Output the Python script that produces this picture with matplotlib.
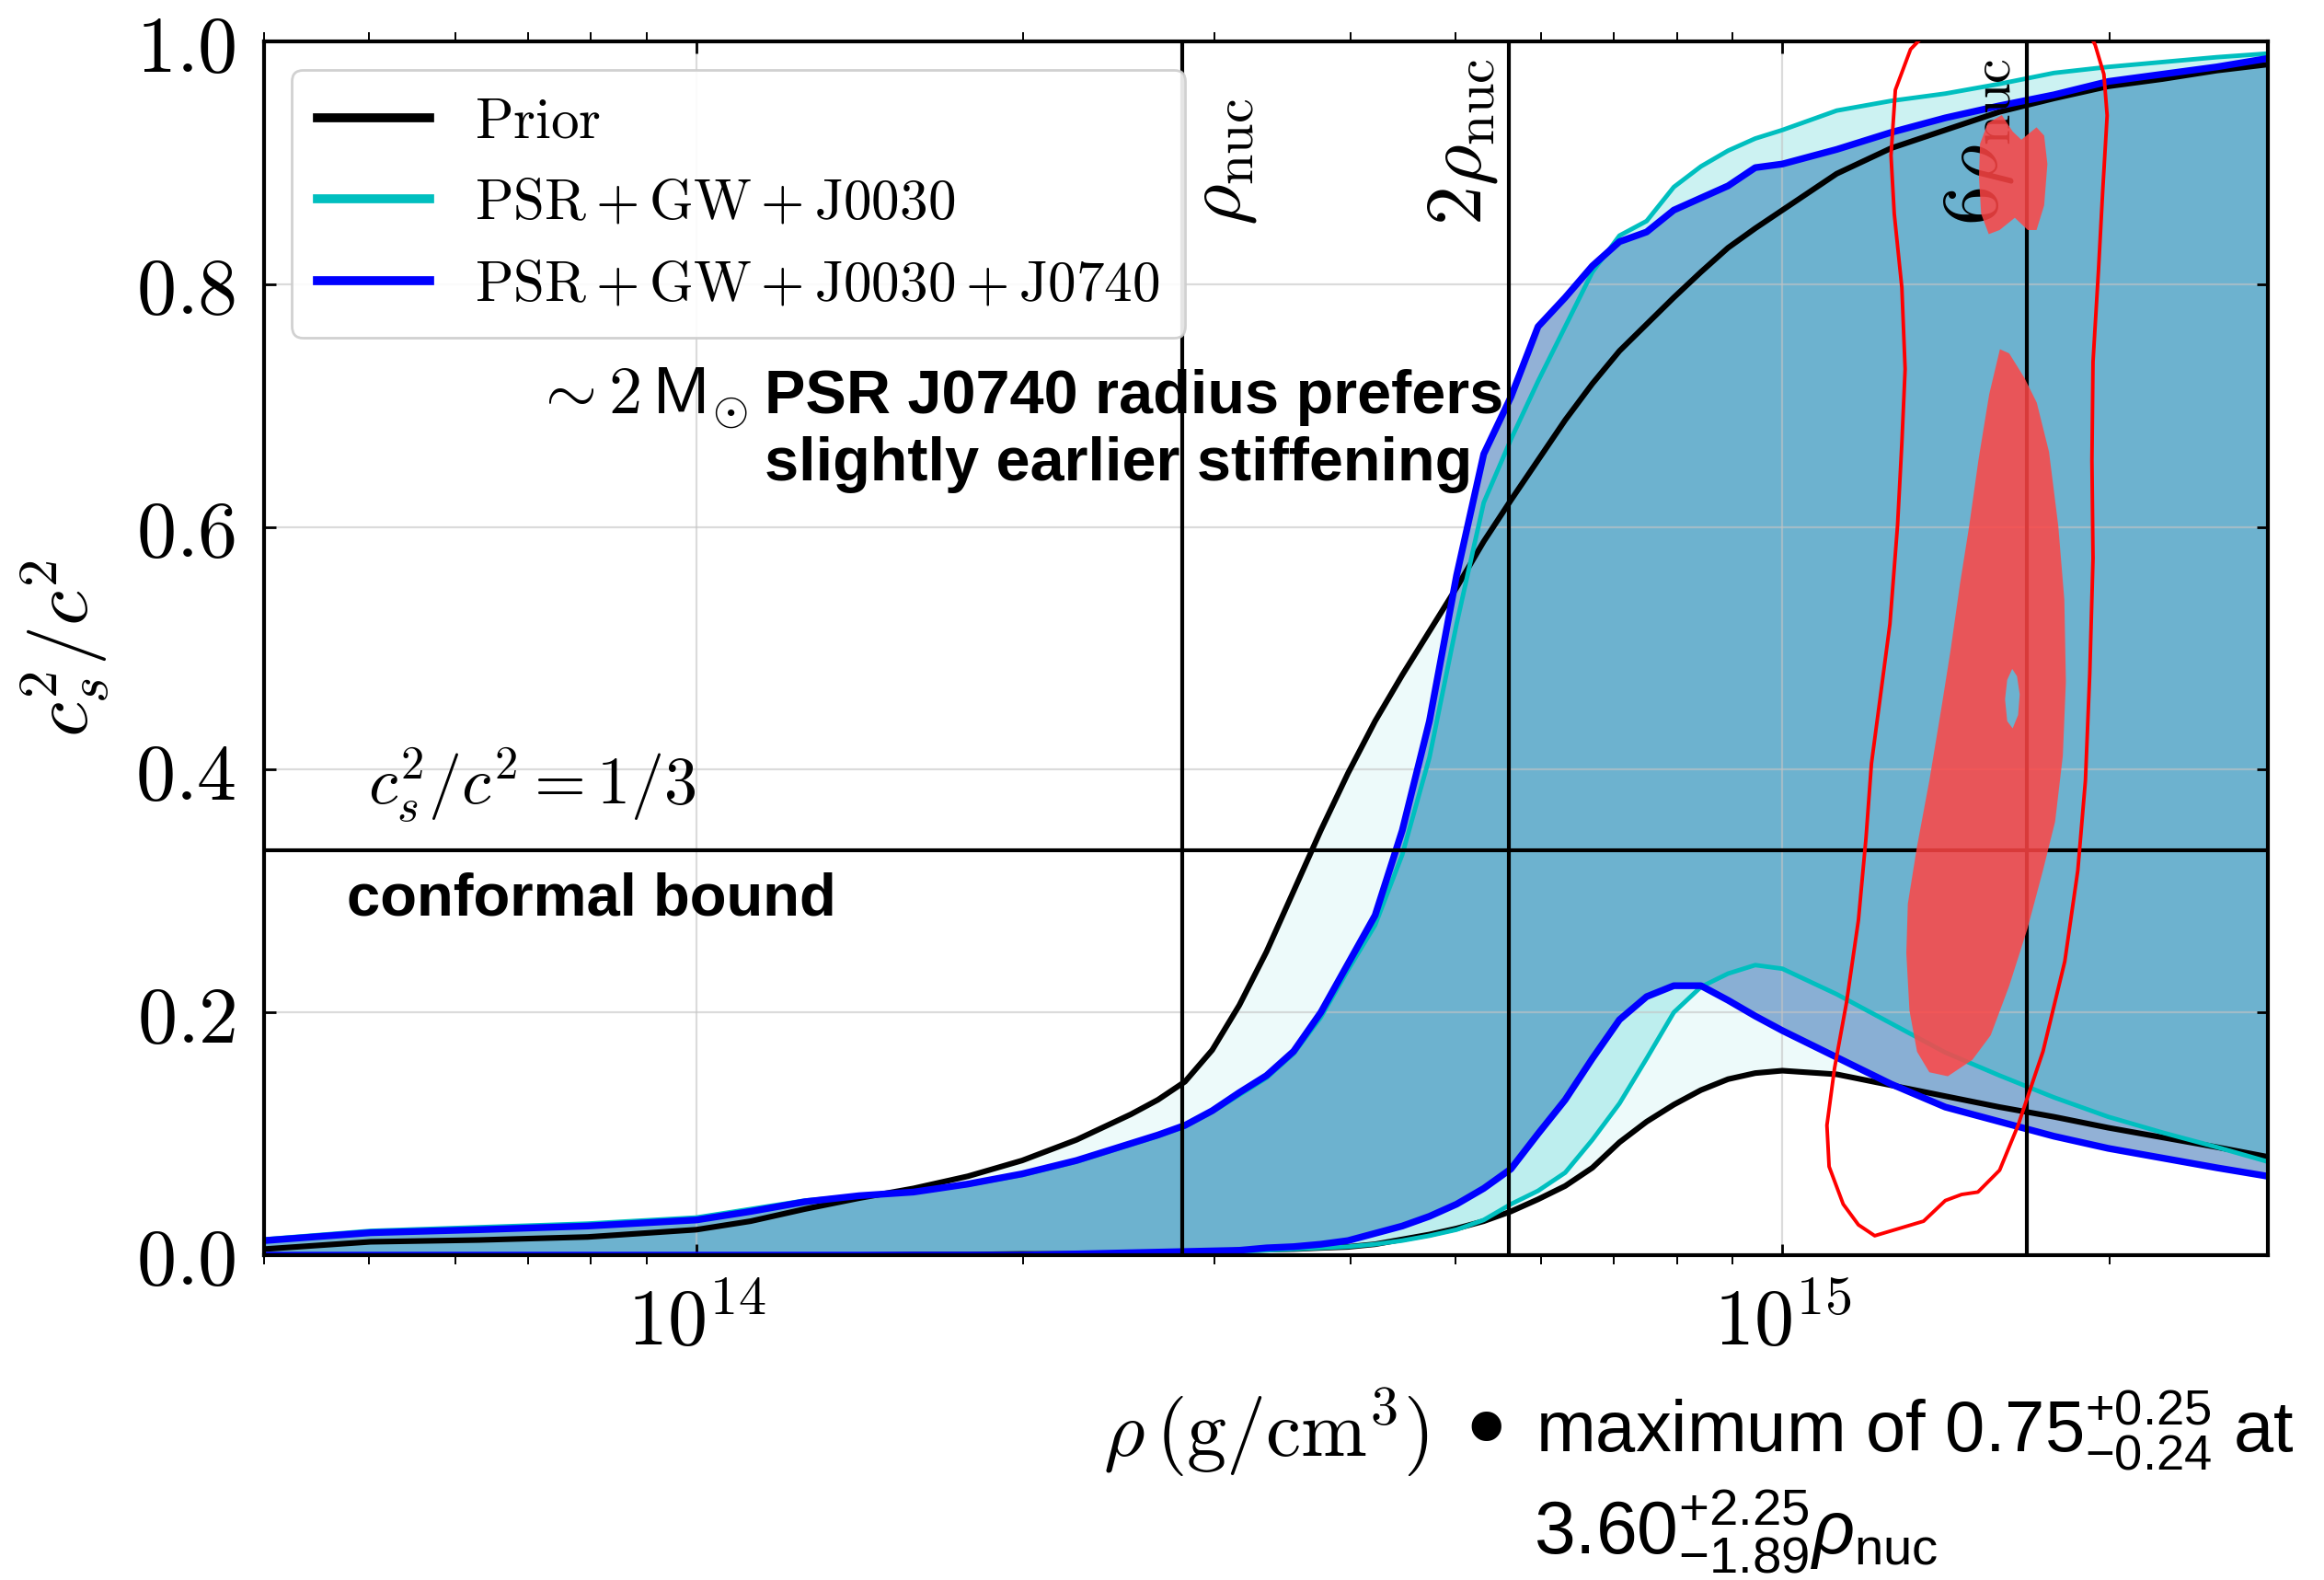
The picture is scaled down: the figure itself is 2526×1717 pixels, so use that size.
import numpy as np
import matplotlib
matplotlib.use('Agg')
import matplotlib.pyplot as plt
from matplotlib.path import Path
from matplotlib.patches import PathPatch
from matplotlib.ticker import NullFormatter

plt.rcParams['mathtext.fontset'] = 'cm'
plt.rcParams['mathtext.rm'] = 'Liberation Sans'
plt.rcParams['mathtext.it'] = 'Liberation Sans:italic'
plt.rcParams['mathtext.bf'] = 'Liberation Sans:bold'
plt.rcParams['mathtext.sf'] = 'Liberation Sans'

# ---------------- data ----------------
log_rho = [13.602, 13.7, 13.8, 13.9, 14.0, 14.05, 14.1, 14.15, 14.2, 14.25, 14.3, 14.35,
           14.4, 14.425, 14.45, 14.475, 14.5, 14.525, 14.55, 14.575, 14.6, 14.625, 14.65, 14.675,
           14.7, 14.725, 14.75, 14.775, 14.8, 14.825, 14.85, 14.875, 14.9, 14.925, 14.95, 14.975,
           15.0, 15.05, 15.1, 15.15, 15.2, 15.25, 15.3, 15.35, 15.4, 15.447]

prior_hi = [0.005, 0.011, 0.0125, 0.015, 0.021, 0.028, 0.038, 0.047, 0.055, 0.065, 0.078, 0.095,
            0.116, 0.128, 0.143, 0.169, 0.206, 0.25, 0.30, 0.35, 0.397, 0.44, 0.478, 0.514,
            0.550, 0.588, 0.622, 0.655, 0.688, 0.718, 0.745, 0.767, 0.789, 0.81, 0.83, 0.846,
            0.861, 0.891, 0.912, 0.927, 0.942, 0.953, 0.963, 0.969, 0.976, 0.981]
prior_lo = [0.0, 0.0, 0.0, 0.0, 0.0, 0.0, 0.0, 0.0, 0.0005, 0.0005, 0.001, 0.001,
            0.0015, 0.002, 0.0025, 0.003, 0.004, 0.0045, 0.005, 0.006, 0.0068, 0.009, 0.013, 0.017,
            0.022, 0.028, 0.036, 0.046, 0.057, 0.072, 0.093, 0.11, 0.124, 0.136, 0.145, 0.15,
            0.152, 0.149, 0.140, 0.131, 0.122, 0.114, 0.105, 0.097, 0.089, 0.081]

j0030_hi = [0.013, 0.020, 0.023, 0.026, 0.031, 0.038, 0.045, 0.049, 0.052, 0.058, 0.066, 0.077,
            0.091, 0.098, 0.106, 0.118, 0.132, 0.146, 0.166, 0.196, 0.235, 0.272, 0.33, 0.41,
            0.52, 0.62, 0.672, 0.72, 0.765, 0.81, 0.84, 0.852, 0.88, 0.897, 0.91, 0.92,
            0.927, 0.943, 0.951, 0.957, 0.965, 0.974, 0.979, 0.983, 0.987, 0.99]
j0030_lo = [0.0, 0.0, 0.0, 0.0, 0.0, 0.0, 0.0, 0.0, 0.0, 0.0, 0.0, 0.0,
            0.001, 0.0015, 0.002, 0.0025, 0.003, 0.004, 0.005, 0.006, 0.007, 0.009, 0.012, 0.016,
            0.021, 0.029, 0.042, 0.053, 0.068, 0.095, 0.125, 0.162, 0.2, 0.221, 0.232, 0.239,
            0.236, 0.215, 0.191, 0.167, 0.148, 0.13, 0.114, 0.101, 0.089, 0.077]

j0740_hi = [0.012, 0.0185, 0.021, 0.024, 0.029, 0.036, 0.044, 0.049, 0.052, 0.0586, 0.067, 0.078,
            0.092, 0.099, 0.107, 0.119, 0.134, 0.148, 0.168, 0.2, 0.24, 0.28, 0.35, 0.44,
            0.56, 0.66, 0.707, 0.765, 0.789, 0.815, 0.835, 0.843, 0.861, 0.871, 0.881, 0.896,
            0.899, 0.911, 0.925, 0.937, 0.947, 0.956, 0.967, 0.973, 0.979, 0.986]
j0740_lo = [0.0, 0.0, 0.0, 0.0, 0.0, 0.0, 0.0, 0.0, 0.0, 0.0, 0.0, 0.001,
            0.002, 0.0025, 0.003, 0.0035, 0.004, 0.006, 0.007, 0.009, 0.012, 0.018, 0.024, 0.032,
            0.042, 0.055, 0.071, 0.10, 0.128, 0.162, 0.194, 0.213, 0.222, 0.222, 0.21, 0.197,
            0.185, 0.163, 0.141, 0.122, 0.11, 0.098, 0.088, 0.08, 0.072, 0.065]

series_labels = [r'$\mathrm{Prior}$',
                 r'$\mathrm{PSR}+\mathrm{GW}+\mathrm{J0030}$',
                 r'$\mathrm{PSR}+\mathrm{GW}+\mathrm{J0030}+\mathrm{J0740}$']

rho_nuc = 2.8e14
nuc_multiples = [1, 2, 6]
nuc_labels = [r'$\rho_{\rm nuc}$', r'$2\rho_{\rm nuc}$', r'$6\rho_{\rm nuc}$']
conformal = 1.0 / 3.0

# red contour of (rho, c_s^2 max) posterior: outer outline
outline_lr = [15.2, 15.15, 15.125, 15.118, 15.104, 15.100, 15.103, 15.110, 15.113, 15.110,
              15.106, 15.099, 15.090, 15.082, 15.077, 15.070, 15.059, 15.048, 15.041, 15.043,
              15.056, 15.07, 15.085, 15.1, 15.115, 15.13, 15.15, 15.165, 15.18, 15.2,
              15.217, 15.240, 15.260, 15.272, 15.279, 15.283, 15.286, 15.285, 15.286, 15.291,
              15.295, 15.299, 15.296, 15.288, 15.275, 15.25, 15.2]
outline_c2 = [1.035, 1.02, 1.0, 0.9935, 0.96, 0.906, 0.858, 0.797, 0.730, 0.669,
              0.601, 0.520, 0.459, 0.405, 0.344, 0.276, 0.208, 0.154, 0.107, 0.073,
              0.042, 0.025, 0.016, 0.020, 0.024, 0.028, 0.045, 0.050, 0.052, 0.07,
              0.107, 0.168, 0.242, 0.317, 0.391, 0.479, 0.574, 0.655, 0.736, 0.811,
              0.878, 0.939, 0.973, 0.997, 1.02, 1.035, 1.035]

blob1_lr = [15.182, 15.189, 15.202, 15.212, 15.220, 15.234, 15.241, 15.244, 15.241, 15.234,
            15.226, 15.214, 15.200, 15.190, 15.183, 15.181]
blob1_c2 = [0.9157, 0.9326, 0.9393, 0.9258, 0.919, 0.9292, 0.9224, 0.899, 0.8649, 0.8446,
            0.8446, 0.8547, 0.8446, 0.8412, 0.858, 0.888]

blob2_lr = [15.2003, 15.2088, 15.2229, 15.2342, 15.2455, 15.254, 15.2596, 15.261, 15.2582, 15.2511,
            15.2398, 15.2257, 15.2088, 15.1918, 15.1749, 15.1523, 15.1353, 15.124, 15.117, 15.1141,
            15.1155, 15.124, 15.1353, 15.1466, 15.155, 15.1636, 15.172, 15.1805, 15.1904]
blob2_c2 = [0.7464, 0.743, 0.7227, 0.7024, 0.6618, 0.6009, 0.5399, 0.4723, 0.4114, 0.3572,
            0.3166, 0.2692, 0.2218, 0.1812, 0.1609, 0.1474, 0.1507, 0.1676, 0.2015, 0.2489,
            0.2895, 0.3369, 0.391, 0.4519, 0.4993, 0.5535, 0.6009, 0.655, 0.7092]

hole_lr = [15.2116, 15.216, 15.2185, 15.217, 15.212, 15.207, 15.205, 15.207]
hole_c2 = [0.483, 0.477, 0.462, 0.445, 0.434, 0.44, 0.458, 0.474]

xtick_exps = [14, 15]
ytick_vals = [0.0, 0.2, 0.4, 0.6, 0.8, 1.0]
ytick_labels = ['0.0', '0.2', '0.4', '0.6', '0.8', '1.0']

# ---------------- figure ----------------
W, H = 2526, 1717
fig = plt.figure(figsize=(W / 100, H / 100), dpi=100)
ax = fig.add_axes([287 / W, 1 - 1364 / H, (2465 - 287) / W, (1364 - 45) / H])

rho = 10 ** np.array(log_rho)

ax.fill_between(rho, prior_lo, prior_hi, color='c', alpha=0.07, lw=0, zorder=1.0)
ax.fill_between(rho, j0740_lo, j0740_hi, color='#2765af', alpha=0.5, lw=0, zorder=1.1)
ax.fill_between(rho, j0030_lo, j0030_hi, color='c', alpha=0.2, lw=0, zorder=1.2)

ax.plot(rho, prior_hi, color='k', lw=4.4, label=series_labels[0], zorder=2.0)
ax.plot(rho, prior_lo, color='k', lw=4.4, zorder=2.0)
ax.plot(rho, j0030_hi, color='c', lw=3.5, label=series_labels[1], zorder=2.1)
ax.plot(rho, j0030_lo, color='c', lw=3.5, zorder=2.1)
ax.plot(rho, j0740_hi, color='b', lw=5.3, label=series_labels[2], zorder=2.2)
ax.plot(rho, j0740_lo, color='b', lw=5.3, zorder=2.2)

ax.axhline(conformal, color='k', lw=3.0, zorder=2.5)
for m in nuc_multiples:
    ax.axvline(m * rho_nuc, color='k', lw=3.0, zorder=2.5)

# red posterior regions
b2 = np.column_stack([10 ** np.array(blob2_lr), blob2_c2])
hl = np.column_stack([10 ** np.array(hole_lr), hole_c2])[::-1]
verts = np.vstack([b2, b2[:1], hl, hl[:1]])
codes = ([Path.MOVETO] + [Path.LINETO] * (len(b2) - 1) + [Path.CLOSEPOLY] +
         [Path.MOVETO] + [Path.LINETO] * (len(hl) - 1) + [Path.CLOSEPOLY])
ax.add_patch(PathPatch(Path(verts, codes), facecolor='#ff4545', edgecolor='none',
                       alpha=0.85, zorder=4))
ax.fill(10 ** np.array(blob1_lr), blob1_c2, color='#ff4545', alpha=0.85, lw=0, zorder=4)
ax.plot(10 ** np.array(outline_lr), outline_c2, color='red', lw=2.8, zorder=5)

# axes
ax.set_xscale('log')
ax.set_xlim(10 ** log_rho[0], 10 ** log_rho[-1])
ax.set_ylim(0, 1)
ax.set_xticks([10.0 ** e for e in xtick_exps])
ax.set_xticklabels([r'$10^{%d}$' % e for e in xtick_exps])
ax.xaxis.set_minor_formatter(NullFormatter())
ax.set_yticks(ytick_vals)
ax.set_yticklabels([r'$%s$' % s for s in ytick_labels])
ax.tick_params(which='major', direction='in', length=9, width=2.0, top=True, right=True,
               labelsize=62)
ax.tick_params(which='minor', direction='out', length=7, width=1.4, top=True, bottom=True)
ax.tick_params(axis='x', which='major', pad=24)
ax.tick_params(axis='y', which='major', pad=22)
for s in ax.spines.values():
    s.set_linewidth(3.0)

ax.set_axisbelow('line')
ax.grid(True, which='major', color='#c4c4c4', lw=1.6, alpha=0.6)

ax.set_ylabel(r'$c_s^2/c^2$', fontsize=62)
ax.yaxis.set_label_coords(-0.076, 0.5)
ax.set_xlabel(r'$\rho\,(\mathrm{g/cm^3})$', fontsize=62)
ax.xaxis.set_label_coords(0.5, -0.108)

# annotations
ax.text(rho_nuc * nuc_multiples[0], 0.848, nuc_labels[0], rotation=90, ha='left', va='bottom',
        fontsize=62, zorder=3)
ax.text(10 ** 14.7398, 0.848, nuc_labels[1], rotation=90, ha='right', va='bottom', fontsize=62, zorder=3)
ax.text(10 ** 15.2153, 0.848, nuc_labels[2], rotation=90, ha='right', va='bottom', fontsize=62, zorder=3)

ax.text(10 ** 13.6975, 0.371, r'$c_s^2/c^2 = 1/3$', fontsize=52, va='baseline', ha='left')
ax.text(10 ** 13.678, 0.2798, 'conformal bound', fontsize=47, fontweight='bold',
        family='Liberation Sans', va='baseline', ha='left')
ax.text(10 ** 14.048, 0.6937, r'$\sim\mathsf{2\,M}_{\odot}$', fontsize=52, va='baseline', ha='right')
ax.text(10 ** 14.0627, 0.6937, 'PSR J0740 radius prefers', fontsize=48, fontweight='bold',
        family='Liberation Sans', va='baseline', ha='left', zorder=3)
ax.text(10 ** 14.0627, 0.638, 'slightly earlier stiffening', fontsize=48, fontweight='bold',
        family='Liberation Sans', va='baseline', ha='left', zorder=3)

leg = ax.legend(loc='upper left', bbox_to_anchor=(0.0138, 0.9765), borderaxespad=0,
                fontsize=44, frameon=True, fancybox=True, framealpha=0.9,
                edgecolor='#cccccc', labelspacing=0.48, handlelength=2.0,
                handletextpad=0.8, borderpad=0.45)
leg.get_frame().set_linewidth(2)
leg.set_zorder(6)
for h in leg.legend_handles:
    h.set_linewidth(7)

# bottom-right summary
fig.text(1582 / W, 1 - 1591 / H, '\u2022', fontsize=80, family='DejaVu Sans', ha='left', va='baseline')
fig.text(1669 / W, 1 - 1577 / H, r'maximum of $0.75^{+0.25}_{-0.24}$ at', fontsize=56,
         family='Liberation Sans', math_fontfamily='custom', ha='left', va='baseline')
fig.text(1667 / W, 1 - 1688 / H, r'$3.60^{+2.25}_{-1.89}\rho_{\mathrm{nuc}}$', fontsize=58,
         family='Liberation Sans', math_fontfamily='custom', ha='left', va='baseline')

fig.savefig('out.png', dpi=100, facecolor='white')
